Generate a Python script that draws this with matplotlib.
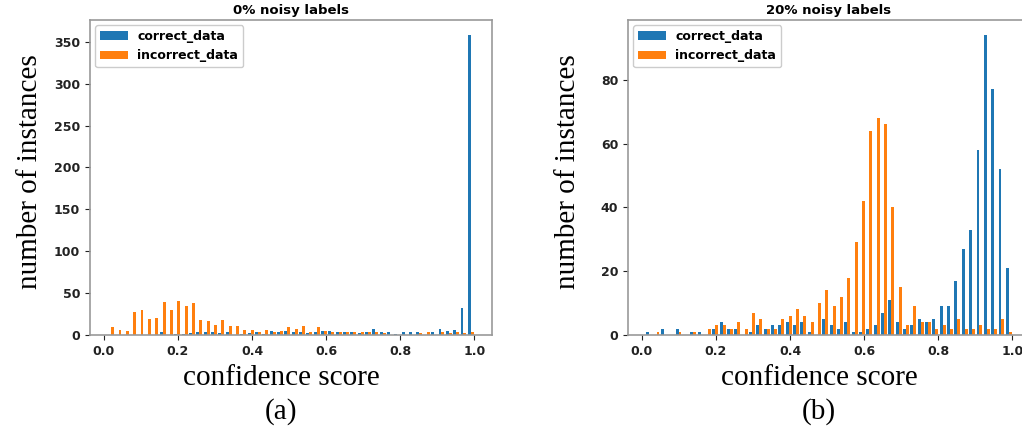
import numpy as np
import matplotlib
matplotlib.use("Agg")
import matplotlib.pyplot as plt

# bin counts, 50 bins of confidence score
bin_lo = 0.01
bin_hi = 1.0
n_bins = 50

# (a) 0% noisy labels
correct_a = [0, 0, 0, 0, 0, 0, 0, 3, 0, 1,
             1, 2, 3, 3, 4, 2, 3, 0, 1, 2,
             4, 1, 5, 3, 5, 3, 4, 2, 4, 5,
             5, 3, 4, 4, 2, 3, 7, 4, 4, 1,
             3, 4, 3, 0, 4, 7, 5, 6, 32, 358]
incorrect_a = [9, 6, 5, 28, 30, 19, 20, 39, 30, 40,
               35, 38, 18, 17, 12, 18, 11, 11, 6, 6,
               4, 6, 3, 5, 9, 7, 11, 4, 9, 5,
               3, 3, 4, 4, 4, 4, 3, 2, 0, 0,
               0, 0, 2, 3, 0, 4, 2, 3, 2, 4]

# (b) 20% noisy labels
correct_b = [1, 0, 2, 0, 2, 0, 1, 1, 0, 2,
             4, 2, 2, 0, 1, 3, 2, 3, 3, 4,
             3, 4, 1, 0, 5, 3, 2, 4, 1, 1,
             2, 3, 7, 11, 4, 2, 3, 5, 4, 5,
             9, 9, 17, 27, 33, 58, 94, 77, 52, 21]
incorrect_b = [0, 1, 0, 0, 1, 0, 1, 0, 2, 3,
               3, 2, 4, 2, 7, 5, 2, 2, 5, 6,
               8, 6, 4, 10, 14, 9, 12, 18, 29, 42,
               64, 68, 66, 40, 15, 3, 9, 4, 4, 2,
               3, 2, 5, 2, 2, 3, 2, 2, 5, 1]

titles = ["0% noisy labels", "20% noisy labels"]
series_names = ["correct_data", "incorrect_data"]
xlabel = "confidence score"
ylabel = "number of instances"
panel_tags = ["(a)", "(b)"]

plt.rcParams['font.family'] = ['DejaVu Sans']
plt.rcParams['font.weight'] = 'bold'
plt.rcParams['font.size'] = 9

fig = plt.figure(figsize=(10.22, 4.43), dpi=100)

edges = np.linspace(bin_lo, bin_hi, n_bins + 1)
centers = (edges[:-1] + edges[1:]) / 2

panels = [(correct_a, incorrect_a), (correct_b, incorrect_b)]
lefts = [90 / 1022, 628 / 1022]
serif = ['Liberation Serif', 'DejaVu Serif']

for i, (corr, inc) in enumerate(panels):
    ax = fig.add_axes([lefts[i], 108 / 443, 402 / 1022, 315 / 443])
    ax.hist([centers, centers], bins=edges, weights=[corr, inc],
            color=['#1f77b4', '#ff7f0e'], label=series_names)
    ax.set_title(titles[i], fontsize=9.5, fontweight='bold', pad=4)
    ax.set_xticks([0.0, 0.2, 0.4, 0.6, 0.8, 1.0])
    for s in ax.spines.values():
        s.set_color('#999999')
        s.set_linewidth(1.2)
    ax.tick_params(colors='#222222', length=3.5, width=0.8)
    ax.legend(loc='upper left', fontsize=9, handlelength=2.2,
              borderaxespad=0.4, framealpha=1)

    xc = lefts[i] + 201 / 1022 - 10 / 1022
    fig.text(xc, 1 - 378 / 443, xlabel, family=serif, fontsize=21,
             fontweight='normal', ha='center', va='center')
    fig.text(xc, 1 - 412 / 443, panel_tags[i], family=serif, fontsize=21,
             fontweight='normal', ha='center', va='center')
    fig.text(lefts[i] - 60 / 1022, 1 - 172 / 443, ylabel, family=serif,
             fontsize=21, fontweight='normal', rotation=90,
             ha='center', va='center')

fig.savefig("out.png", dpi=100)
